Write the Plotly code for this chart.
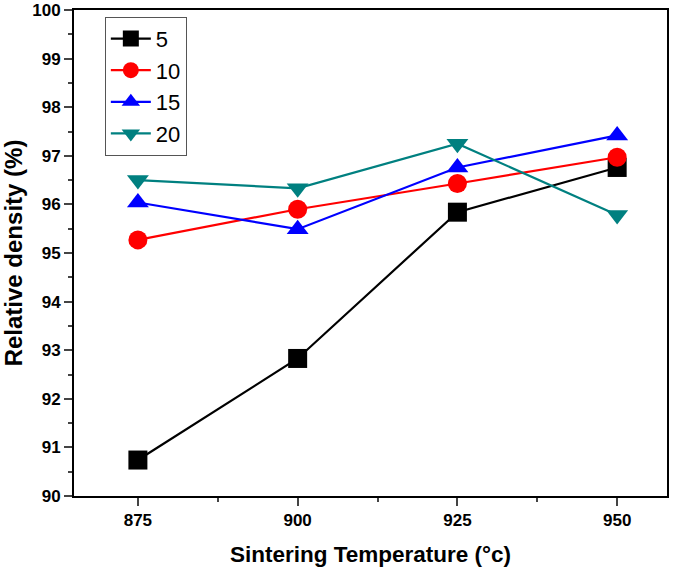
import plotly.graph_objects as go

temps = [875, 900, 925, 950]
s5 = [90.74, 92.83, 95.84, 96.76]
s10 = [95.27, 95.90, 96.43, 96.97]
s15 = [96.04, 95.49, 96.76, 97.42]
s20 = [96.50, 96.33, 97.25, 95.78]
names = ["5", "10", "15", "20"]

series = [s5, s10, s15, s20]
colors = ["#000000", "#ff0000", "#0000ff", "#008080"]
symbols = ["square", "circle", "triangle-up", "triangle-down"]

fig = go.Figure()
for n, s, c, sym in zip(names, series, colors, symbols):
    fig.add_trace(go.Scatter(x=temps, y=s, name=n, mode="lines+markers",
                             line=dict(color=c, width=2.2),
                             marker=dict(symbol=sym, size=19, color=c)))

fig.update_layout(
    width=685, height=570,
    margin=dict(l=74, r=18, t=10, b=74),
    plot_bgcolor="white", paper_bgcolor="white",
    font=dict(family="Liberation Sans, Arial", color="black"),
    showlegend=True,
    legend=dict(x=0.052, y=0.986, xanchor="left", yanchor="top",
                bgcolor="white", bordercolor="#555", borderwidth=1,
                font=dict(size=22), itemwidth=40, tracegroupgap=0),
    xaxis=dict(range=[865, 957.8], tickvals=temps, ticks="outside", ticklen=8, tickwidth=2,
               showline=True, linewidth=2, linecolor="black", mirror=True,
               showgrid=False, zeroline=False, automargin=False,
               ticklabeloverflow="allow",
               tickfont=dict(size=17, weight="bold"),
               minor=dict(tickvals=[887.5, 912.5, 937.5], ticks="outside", ticklen=4, tickwidth=2),
               title=dict(text="Sintering Temperature (°c)", font=dict(size=22.5, weight="bold"), standoff=17)),
    yaxis=dict(range=[90, 100], dtick=1, ticks="outside", ticklen=8, tickwidth=2,
               showline=True, linewidth=2, linecolor="black", mirror=True,
               showgrid=False, zeroline=False, automargin=False,
               ticklabeloverflow="allow",
               tickfont=dict(size=17, weight="bold"),
               minor=dict(dtick=0.5, ticks="outside", ticklen=4, tickwidth=2),
               title=dict(text="Relative density (%)", font=dict(size=24, weight="bold"), standoff=3)),
)
fig.write_html("out.html", config={"displayModeBar": False},
               post_script="document.body.style.margin='0';document.body.style.overflow='hidden';")
